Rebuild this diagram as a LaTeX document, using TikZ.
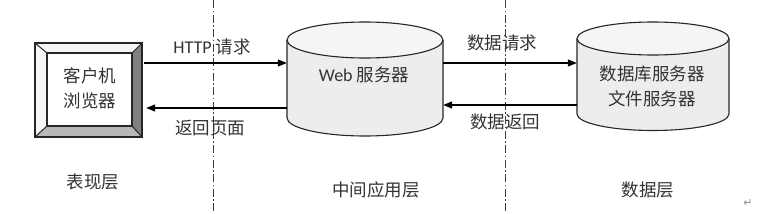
\documentclass[tikz,border=0pt]{standalone}
\usepackage{fontspec}
\setmainfont{Carlito}
\newfontfamily\cjk{Noto Sans CJK SC}
\newfontfamily\sym{DejaVu Sans}
\usetikzlibrary{arrows.meta}
\definecolor{txt}{HTML}{333333}
\definecolor{cylbody}{HTML}{EDEDED}
\definecolor{cyltop}{HTML}{F5F5F5}
\tikzset{
  lbl/.style={text=txt,font=\fontsize{17.5}{20}\selectfont\cjk,inner sep=0pt},
  conn/.style={line width=1.1pt,-{Triangle[length=9pt,width=7pt]}},
  divider/.style={line width=1pt,dash pattern=on 8pt off 2.5pt on 1.5pt off 2.5pt,color=black!75},
  cylline/.style={line width=1.1pt,draw=black!85},
}
\begin{document}
\begin{tikzpicture}[x=1pt,y=-1pt]
\useasboundingbox (0,0) rectangle (766,214);
% dividers
\coordinate (d1t) at (213,0); \coordinate (d1b) at (213,214);
\coordinate (d2t) at (505,0); \coordinate (d2b) at (505,214);
\draw[divider] (d1t) -- (d1b);
\draw[divider] (d2t) -- (d2b);
% client bevel box
\fill[white!96!black] (35,43) -- (142,43) -- (132,53) -- (47,53) -- (47,126) -- (35,137) -- cycle;
\fill[black!50] (142,43) -- (142,137) -- (132,126) -- (132,53) -- cycle;
\fill[black!28] (35,137) -- (142,137) -- (132,126) -- (47,126) -- cycle;
\node[draw=black!85,line width=1.1pt,fill=white,minimum width=85pt,minimum height=73pt,inner sep=0pt] (client) at (89.5,89.5) {};
\draw[line width=1.1pt,draw=black!85] (35,43) rectangle (142,137);
\draw[line width=1pt,draw=black!85] (35,43) -- (47,53) (142,43) -- (132,53) (35,137) -- (47,126) (142,137) -- (132,126);
\node[lbl,align=center] (clienttxt) at (90,88) {客户机\\[5pt]浏览器};
\node[minimum width=107pt,minimum height=94pt,inner sep=0pt] (clientbox) at (88.5,90) {};
% web cylinder
\fill[cylbody] (287,40) -- (287,118) arc[start angle=180,end angle=0,x radius=78,y radius=18] -- (443,40) -- cycle;
\fill[cyltop] (365,40) ellipse[x radius=78,y radius=18];
\draw[cylline] (365,40) ellipse[x radius=78,y radius=18];
\draw[cylline] (287,40) -- (287,118) arc[start angle=180,end angle=0,x radius=78,y radius=18] -- (443,40);
\node[minimum width=156pt,minimum height=114pt,inner sep=0pt] (web) at (365,79) {};
\node[lbl] (webtxt) at (364,75) {{\fontsize{18}{20}\selectfont\rmfamily Web} 服务器};
% data cylinder
\fill[cylbody] (577,38.5) -- (577,114) arc[start angle=180,end angle=0,x radius=76,y radius=16.5] -- (729,38.5) -- cycle;
\fill[cyltop] (653,38.5) ellipse[x radius=76,y radius=16.5];
\draw[cylline] (653,38.5) ellipse[x radius=76,y radius=16.5];
\draw[cylline] (577,38.5) -- (577,114) arc[start angle=180,end angle=0,x radius=76,y radius=16.5] -- (729,38.5);
\node[minimum width=152pt,minimum height=108pt,inner sep=0pt] (data) at (653,76) {};
\node[lbl,align=center] (datatxt) at (652,86.5) {数据库服务器\\[5pt]文件服务器};
% connectors
\coordinate (c1a) at (clientbox.east |- 0,63);
\coordinate (c1b) at (web.west |- 0,63);
\coordinate (c2a) at (web.west |- 0,108);
\coordinate (c2b) at (clientbox.east |- 0,108);
\coordinate (c3a) at (web.east |- 0,63);
\coordinate (c3b) at (data.west |- 0,63);
\coordinate (c4a) at (data.west |- 0,105);
\coordinate (c4b) at (web.east |- 0,105);
\draw[conn] ([xshift=2pt]c1a) -- (c1b);
\draw[conn] (c2a) -- ([xshift=4pt]c2b);
\draw[conn] (c3a) -- (c3b);
\draw[conn] (c4a) -- (c4b);
% labels
\node[lbl] (l1) at (212,47) {{\fontsize{18}{20}\selectfont\rmfamily HTTP} 请求};
\node[lbl] (l2) at (210,128) {返回页面};
\node[lbl] (l3) at (502,43) {数据请求};
\node[lbl] (l4) at (505,122) {数据返回};
\node[lbl] (p1) at (93,182) {表现层};
\node[lbl] (p2) at (376,190) {中间应用层};
\node[lbl] (p3) at (648,190) {数据层};
\node[text=black!45,font=\fontsize{11}{12}\selectfont\sym,inner sep=0pt] (ret) at (748,203) {↵};
\end{tikzpicture}
\end{document}
